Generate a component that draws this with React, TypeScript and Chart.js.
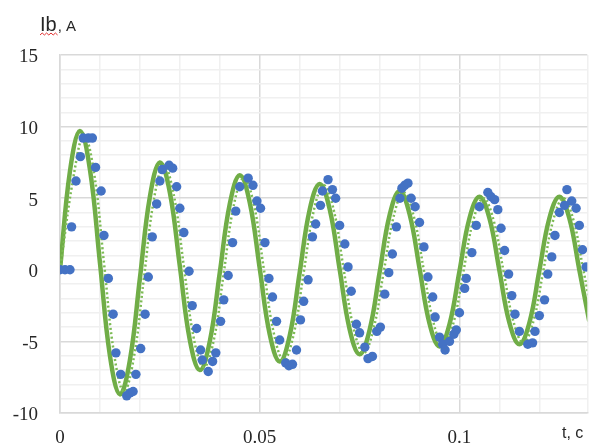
import { useEffect, useRef } from 'react';
import { Chart, registerables } from 'chart.js';

Chart.register(...registerables);

// Calculated current (solid green line)
const solidT = [0, 0.0025, 0.005, 0.0075, 0.01, 0.0125, 0.015, 0.0175, 0.02, 0.0225, 0.025, 0.0275, 0.03, 0.0325, 0.035, 0.0375, 0.04, 0.0425, 0.045, 0.0475, 0.05, 0.0525, 0.055, 0.0575, 0.06, 0.0625, 0.065, 0.0675, 0.07, 0.0725, 0.075, 0.0775, 0.08, 0.0825, 0.085, 0.0875, 0.09, 0.0925, 0.095, 0.0975, 0.1, 0.1025, 0.105, 0.1075, 0.11, 0.1125, 0.115, 0.1175, 0.12, 0.1225, 0.125, 0.1275, 0.13, 0.1325];
const solidI = [0, 6.9, 9.7, 7.0, 0.5, -6.0, -8.7, -6.3, -0.6, 5.1, 7.5, 5.4, 0.25, -4.9, -7.0, -5.0, -0.2, 4.6, 6.6, 4.7, 0.1, -4.5, -6.4, -4.6, -0.2, 4.2, 6.0, 4.25, 0.05, -4.15, -5.9, -4.2, -0.2, 3.8, 5.5, 3.9, 0.1, -3.75, -5.35, -3.8, -0.1, 3.6, 5.1, 3.6, -0.05, -3.7, -5.2, -3.7, -0.05, 3.6, 5.1, 3.6, 0, -3.6];

// Second model (dotted green line)
const dottedT = [0, 0.0035, 0.006, 0.0085, 0.011, 0.0135, 0.016, 0.0185, 0.021, 0.0235, 0.026, 0.0285, 0.031, 0.0335, 0.036, 0.0385, 0.041, 0.0435, 0.046, 0.0485, 0.051, 0.0535, 0.056, 0.0585, 0.061, 0.0635, 0.066, 0.0685, 0.071, 0.0735, 0.076, 0.0785, 0.081, 0.0835, 0.086, 0.0885, 0.091, 0.0935, 0.096, 0.0985, 0.101, 0.1035, 0.106, 0.1085, 0.111, 0.1135, 0.116, 0.1185, 0.121, 0.1235, 0.126, 0.1285, 0.131, 0.1335];
const dottedI = [0, 6.7, 9.4, 6.8, 0.5, -5.8, -8.5, -6.1, -0.6, 4.9, 7.3, 5.2, 0.25, -4.8, -6.8, -4.9, -0.2, 4.5, 6.4, 4.6, 0.1, -4.4, -6.3, -4.5, -0.2, 4.1, 5.9, 4.2, 0.05, -4.1, -5.8, -4.1, -0.2, 3.7, 5.4, 3.8, 0.1, -3.7, -5.3, -3.7, -0.1, 3.5, 5.0, 3.5, -0.05, -3.6, -5.1, -3.6, -0.05, 3.5, 5.0, 3.5, 0, -3.5];

// Measured current (blue dots)
const measT = [0, 0.00125, 0.0025, 0.0029, 0.004, 0.0051, 0.0058, 0.0071, 0.0081, 0.0089, 0.0103, 0.011, 0.0121, 0.0133, 0.014, 0.0152, 0.0167, 0.0175, 0.0183, 0.019, 0.0202, 0.0213, 0.0221, 0.0231, 0.0242, 0.025, 0.0256, 0.0273, 0.0282, 0.0292, 0.03, 0.031, 0.0323, 0.0331, 0.0342, 0.0352, 0.0356, 0.0371, 0.0382, 0.039, 0.0402, 0.041, 0.0421, 0.0432, 0.044, 0.045, 0.0471, 0.0483, 0.0493, 0.0502, 0.0513, 0.0523, 0.0532, 0.0542, 0.055, 0.0565, 0.0573, 0.0582, 0.0592, 0.0602, 0.061, 0.0621, 0.0632, 0.064, 0.0652, 0.0657, 0.0671, 0.0682, 0.069, 0.07, 0.0713, 0.0721, 0.0729, 0.0742, 0.075, 0.0763, 0.0771, 0.0782, 0.0793, 0.0802, 0.0813, 0.0823, 0.0832, 0.0842, 0.0851, 0.0856, 0.0863, 0.0871, 0.0879, 0.0889, 0.09, 0.0911, 0.0921, 0.0933, 0.0939, 0.095, 0.0958, 0.0964, 0.0975, 0.0986, 0.0992, 0.1, 0.1013, 0.1017, 0.1031, 0.1042, 0.105, 0.1071, 0.1079, 0.1088, 0.1096, 0.1104, 0.1113, 0.1123, 0.1131, 0.1139, 0.115, 0.1171, 0.1183, 0.1189, 0.12, 0.1213, 0.1221, 0.1231, 0.1239, 0.125, 0.1263, 0.1269, 0.1281, 0.1292, 0.13, 0.1308, 0.1317];
const measI = [0, 0, 0, 3.0, 6.2, 7.9, 9.2, 9.2, 9.2, 7.15, 5.5, 2.4, -0.6, -3.1, -5.8, -7.3, -8.8, -8.6, -8.5, -7.3, -5.5, -3.1, -0.5, 2.3, 4.6, 6.2, 7.0, 7.3, 7.1, 5.8, 4.3, 2.6, -0.1, -2.5, -4.1, -5.6, -6.3, -7.1, -6.4, -5.8, -3.6, -2.1, -0.4, 1.9, 4.1, 5.8, 6.4, 5.9, 4.8, 4.3, 1.9, -0.6, -1.9, -3.6, -4.9, -6.5, -6.7, -6.6, -5.6, -3.5, -2.2, -0.7, 2.3, 3.2, 4.5, 5.5, 6.3, 5.6, 5.0, 3.1, 1.8, 0.2, -1.5, -3.8, -4.4, -5.4, -6.2, -6.05, -4.3, -4.0, -1.7, -0.2, 1.1, 3.0, 5.0, 5.7, 5.9, 6.05, 5.0, 4.4, 3.3, 1.6, -0.5, -1.9, -3.3, -4.7, -5.2, -5.6, -5.0, -4.5, -4.2, -3.0, -1.3, -0.6, 1.2, 3.1, 4.4, 5.4, 5.1, 4.9, 4.2, 2.9, 1.35, -0.3, -1.8, -3.1, -4.3, -5.2, -5.1, -4.3, -3.2, -2.1, -0.3, 0.9, 2.4, 4.0, 4.5, 5.6, 4.8, 4.3, 3.1, 1.4, 0.2];

const xMin = 0;
const xMax = 0.132;
const xStep = 0.01;
const xLabelStep = 0.05;
const yMin = -10;
const yMax = 15;
const yStep = 1;
const yLabelStep = 5;

const yTitleMain = 'Ib';
const yTitleUnit = ', A';
const xTitle = 't, c';

const isMultiple = (v: number, step: number) => Math.abs(v / step - Math.round(v / step)) < 1e-6;

const titlePlugin = {
  id: 'axisTitles',
  afterDraw(chart: any) {
    const ctx = chart.ctx as CanvasRenderingContext2D;
    ctx.save();
    ctx.fillStyle = '#262626';
    ctx.textBaseline = 'alphabetic';
    ctx.textAlign = 'left';
    ctx.font = '20px "Liberation Sans", Arial, sans-serif';
    ctx.fillText(yTitleMain, 40, 31);
    const w = ctx.measureText(yTitleMain).width;
    ctx.font = '15px "Liberation Sans", Arial, sans-serif';
    ctx.fillText(yTitleUnit, 40 + w + 1, 31);
    // spell-check squiggle
    ctx.strokeStyle = '#e03030';
    ctx.lineWidth = 1;
    ctx.beginPath();
    for (let i = 0; i <= 8; i++) {
      const px = 40 + i * 2.2;
      const py = i % 2 === 0 ? 35 : 33;
      if (i === 0) ctx.moveTo(px, py);
      else ctx.lineTo(px, py);
    }
    ctx.stroke();
    ctx.font = '16px "Liberation Sans", Arial, sans-serif';
    ctx.fillText(xTitle, 562, 438);
    ctx.restore();
  },
};

export default function App() {
  const ref = useRef<HTMLCanvasElement>(null);
  useEffect(() => {
    if (!ref.current) return;
    const chart = new Chart(ref.current, {
      type: 'scatter',
      data: {
        datasets: [
          {
            label: 'measured',
            data: measT.map((t, i) => ({ x: t, y: measI[i] })),
            showLine: false,
            pointRadius: 4.7,
            pointBackgroundColor: '#4472C4',
            pointBorderColor: '#4472C4',
            pointBorderWidth: 0,
            order: 0,
          },
          {
            label: 'dotted',
            data: dottedT.map((t, i) => ({ x: t, y: dottedI[i] })),
            showLine: true,
            borderColor: '#7dbb55',
            borderWidth: 2.5,
            borderDash: [2, 2.5],
            pointRadius: 0,
            tension: 0.4,
            order: 1,
          },
          {
            label: 'solid',
            data: solidT.map((t, i) => ({ x: t, y: solidI[i] })),
            showLine: true,
            borderColor: '#70AD47',
            borderWidth: 4.5,
            pointRadius: 0,
            tension: 0.4,
            order: 2,
          },
        ],
      },
      options: {
        animation: false,
        responsive: false,
        layout: { padding: { top: 55, right: 4, left: 0, bottom: 0 } },
        plugins: { legend: { display: false }, tooltip: { enabled: false } },
        scales: {
          x: {
            type: 'linear',
            min: xMin,
            max: xMax,
            afterFit: (s: any) => {
              s.height = 32;
              s.paddingLeft = 0;
              s.paddingRight = 0;
            },
            ticks: {
              stepSize: xStep,
              autoSkip: false,
              maxRotation: 0,
              padding: 14,
              color: '#262626',
              font: { family: '"Liberation Serif", "Times New Roman", serif', size: 19 },
              callback: (v: any) => (isMultiple(Number(v), xLabelStep) ? String(Number(Number(v).toFixed(3))) : ''),
            },
            grid: {
              drawTicks: false,
              color: (c: any) => (isMultiple(c.tick.value, xLabelStep) ? '#d9d9d9' : '#f0f0f0'),
              lineWidth: 1.5,
            },
            border: { color: '#d9d9d9', width: 1.5 },
          },
          y: {
            type: 'linear',
            min: yMin,
            max: yMax,
            afterFit: (s: any) => {
              s.width = 60;
              s.paddingTop = 0;
              s.paddingBottom = 0;
            },
            ticks: {
              stepSize: yStep,
              autoSkip: false,
              padding: 22,
              labelOffset: 2.5,
              color: '#262626',
              font: { family: '"Liberation Serif", "Times New Roman", serif', size: 19 },
              callback: (v: any) => (isMultiple(Number(v), yLabelStep) ? String(v) : ''),
            },
            grid: {
              drawTicks: false,
              color: (c: any) => (isMultiple(c.tick.value, yLabelStep) ? '#d9d9d9' : '#f0f0f0'),
              lineWidth: 1.5,
            },
            border: { color: '#d9d9d9', width: 1.5 },
          },
        },
      },
      plugins: [titlePlugin],
    });
    return () => chart.destroy();
  }, []);
  return (
    <div style={{ position: 'absolute', left: 0, top: 0, width: 592, height: 445, background: '#fff' }}>
      <canvas ref={ref} width={592} height={445} style={{ width: 592, height: 445, display: 'block' }} />
    </div>
  );
}
